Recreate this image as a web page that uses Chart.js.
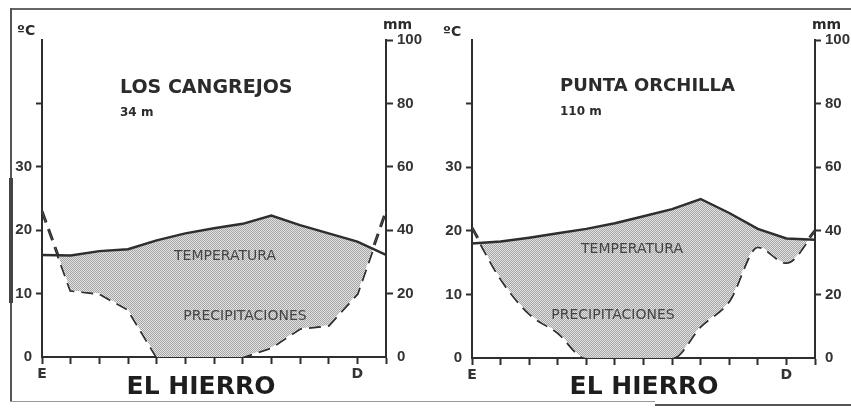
<!DOCTYPE html>
<html>
<head>
<meta charset="utf-8">
<script src="https://cdn.jsdelivr.net/npm/chart.js@4.4.1/dist/chart.umd.min.js"></script>
<style>
html,body{margin:0;padding:0;background:#fff;}
#wrap{position:relative;width:851px;height:409px;overflow:hidden;background:#fff;}
canvas{position:absolute;top:0;}
.ln{position:absolute;}
</style>
</head>
<body>
<div id="wrap">
<canvas id="c1" width="425" height="409" style="left:0;width:425px;height:409px"></canvas>
<canvas id="c2" width="426" height="409" style="left:425px;width:426px;height:409px"></canvas>
<div class="ln" style="left:10px;top:8px;width:841px;border-top:2px solid #666"></div>
<div class="ln" style="left:10px;top:8px;height:394px;border-left:2px solid #555"></div>
<div class="ln" style="left:9px;top:178px;height:125px;width:4px;background:#444"></div>
<div class="ln" style="left:10px;top:401px;width:645px;border-top:1px solid #999"></div>
<div class="ln" style="left:655px;top:404px;width:196px;border-top:2px solid #555"></div>
</div>
<script>
/* ================= DATA ================= */
// months E..D plus January again closing the year
const monthTicks=["E","","","","","","","","","","","D",""];

const cangrejosTemp=[16.1,16.0,16.7,17.0,18.4,19.5,20.3,21.0,22.3,20.8,19.5,18.2,16.1];
const cangrejosPrec=[46,21,20,15,0,0,0,0,3,9,10,20,46];

const orchillaTemp=[18.0,18.3,18.9,19.6,20.3,21.2,22.3,23.4,25.0,22.8,20.3,18.8,18.6];
const orchillaPrec=[41,25,14,8,0,0,0,0,10,18,35,30,40];

const tempTicks=[0,10,20,30];     // labelled °C ticks
const precTicks=[0,20,40,60,80,100];

/* ================= PATTERN ================= */
const pc=document.createElement("canvas");
pc.width=2;pc.height=2;
const pctx=pc.getContext("2d");
pctx.fillStyle="#e2e2e2";pctx.fillRect(0,0,2,2);
pctx.fillStyle="#a6a6a6";pctx.fillRect(0,0,1,1);pctx.fillRect(1,1,1,1);
const dots=pctx.createPattern(pc,"repeat");

/* ================= TEXT PLUGIN ================= */
const textPlugin={
id:"texts",
afterDraw(chart,args,opts){
const ctx=chart.ctx;
ctx.save();
ctx.textBaseline="middle";
(opts.items||[]).forEach(t=>{
ctx.font=t.font;
ctx.fillStyle=t.color||"#2b2b2b";
ctx.textAlign=t.align||"left";
ctx.fillText(t.text,t.x,t.y);
});
ctx.restore();
}
};

const INK="#2e2e2e";
const tickFont={family:"Liberation Sans",size:15,weight:"bold"};

function makeChart(id,temps,precs,o){
return new Chart(document.getElementById(id),{
type:"line",
data:{
labels:monthTicks,
datasets:[
{data:temps,yAxisID:"y",borderColor:INK,borderWidth:2.5,pointRadius:0,tension:0,
 fill:{target:1,above:dots,below:"rgba(0,0,0,0)"}},
{data:precs,yAxisID:"y1",borderColor:INK,borderWidth:3,borderDash:[12,7],pointRadius:0,
 tension:o.tension,cubicInterpolationMode:o.mono?"monotone":"default",fill:false}
]
},
options:{
responsive:false,animation:false,
layout:{padding:{top:40,left:0,right:0,bottom:0}},
plugins:{legend:{display:false},tooltip:{enabled:false},texts:{items:o.texts}},
scales:{
x:{
grid:{drawOnChartArea:false,drawTicks:true,tickLength:7,tickColor:INK,tickWidth:2},
border:{display:true,color:INK,width:2},
ticks:{autoSkip:false,maxRotation:0,color:"#333",font:{family:"DejaVu Sans",size:14,weight:"bold"},padding:2},
afterFit:s=>{s.height=o.bottom;}
},
y:{
position:"left",min:0,max:50,
grid:{drawOnChartArea:false,tickLength:6,tickWidth:2,
 tickColor:c=>(c.tick.value===0||c.tick.value===50)?"rgba(0,0,0,0)":INK},
border:{display:true,color:INK,width:2},
ticks:{stepSize:10,color:"#333",font:tickFont,padding:4,
 callback:v=>tempTicks.includes(v)?v:""},
afterFit:s=>{s.width=o.left;}
},
y1:{
position:"right",min:0,max:100,
grid:{drawOnChartArea:false,tickLength:o.rTick,tickWidth:2,
 tickColor:c=>c.tick.value===0?"rgba(0,0,0,0)":INK},
border:{display:true,color:INK,width:2},
ticks:{stepSize:20,color:"#333",font:tickFont,padding:4,
 callback:v=>precTicks.includes(v)?v:""},
afterFit:s=>{s.width=o.right;}
}
}
},
plugins:[textPlugin]
});
}

const altFont="bold 12px 'DejaVu Sans'";
const inFont="14px 'DejaVu Sans'";
const bigFont="bold 25px 'DejaVu Sans'";
const unitFont="bold 14px 'DejaVu Sans'";

/* ================= CHARTS ================= */
makeChart("c1",cangrejosTemp,cangrejosPrec,{
left:42,right:39,bottom:52,rTick:7,tension:0,mono:false,
texts:[
{text:"ºC",x:17,y:31,font:unitFont},
{text:"mm",x:383,y:25,font:unitFont},
{text:"LOS CANGREJOS",x:120,y:88,font:"bold 19px 'DejaVu Sans'"},
{text:"34 m",x:120,y:113,font:altFont},
{text:"TEMPERATURA",x:225,y:256,font:inFont,align:"center",color:"#444"},
{text:"PRECIPITACIONES",x:245,y:316,font:inFont,align:"center",color:"#444"},
{text:"EL HIERRO",x:201,y:387,font:bigFont,align:"center",color:"#1e1e1e"}
]
});

makeChart("c2",orchillaTemp,orchillaPrec,{
left:47,right:36,bottom:51,rTick:6,tension:0.4,mono:true,
texts:[
{text:"ºC",x:18,y:32,font:unitFont},
{text:"mm",x:387,y:25,font:unitFont},
{text:"PUNTA ORCHILLA",x:135,y:86,font:"bold 18px 'DejaVu Sans'"},
{text:"110 m",x:135,y:112,font:altFont},
{text:"TEMPERATURA",x:207,y:249,font:inFont,align:"center",color:"#444"},
{text:"PRECIPITACIONES",x:188,y:315,font:inFont,align:"center",color:"#444"},
{text:"EL HIERRO",x:219,y:387,font:bigFont,align:"center",color:"#1e1e1e"}
]
});
</script>
</body>
</html>
